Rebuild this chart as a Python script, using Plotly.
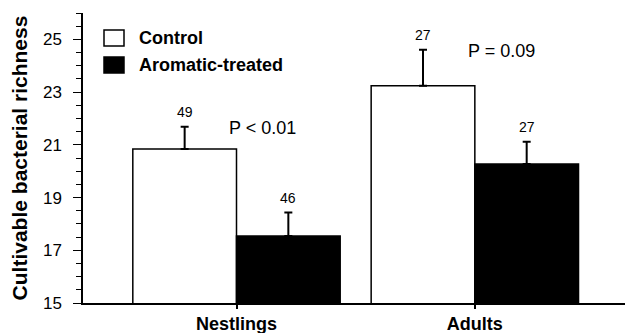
import plotly.graph_objects as go

groups = ["Nestlings", "Adults"]
series_names = ["Control", "Aromatic-treated"]
control_mean = [20.84, 23.24]
control_se = [0.85, 1.37]
treated_mean = [17.54, 20.27]
treated_se = [0.89, 0.85]
control_n = ["49", "27"]
treated_n = ["46", "27"]
p_labels = ["P < 0.01", "P = 0.09"]
series_fill = ["white", "black"]

FONT = "Arial, Liberation Sans, Helvetica, sans-serif"
xpos = list(range(len(groups)))
bar_w = 0.435

fig = go.Figure()
fig.add_trace(go.Bar(
    x=xpos, y=control_mean, name=series_names[0], width=bar_w, offset=-bar_w,
    marker=dict(color=series_fill[0], line=dict(color="black", width=1.5)),
    error_y=dict(type="data", array=control_se, arrayminus=[0]*len(groups),
                 symmetric=False, color="black", thickness=2, width=4),
    showlegend=False,
))
fig.add_trace(go.Bar(
    x=xpos, y=treated_mean, name=series_names[1], width=bar_w, offset=0,
    marker=dict(color=series_fill[1], line=dict(color="black", width=1.5)),
    error_y=dict(type="data", array=treated_se, arrayminus=[0]*len(groups),
                 symmetric=False, color="black", thickness=2, width=4),
    showlegend=False,
))

annotations = []
for i in xpos:
    annotations.append(dict(x=i - bar_w / 2, y=control_mean[i] + control_se[i], text=control_n[i],
                            showarrow=False, yshift=15, font=dict(size=14, family=FONT, color="black")))
    annotations.append(dict(x=i + bar_w / 2, y=treated_mean[i] + treated_se[i], text=treated_n[i],
                            showarrow=False, yshift=15, font=dict(size=14, family=FONT, color="black")))
    annotations.append(dict(x=i + 0.11, y=control_mean[i] + control_se[i], text=p_labels[i],
                            showarrow=False, xanchor="center", yshift=-1,
                            font=dict(size=18, family=FONT, color="black")))

# legend keys (custom, to match the larger boxes of the original)
W, H = 625, 333
shapes = []
leg_y = [38, 65]
for k, name in enumerate(series_names):
    yc = leg_y[k]
    shapes.append(dict(type="rect", xref="paper", yref="paper",
                       x0=(104 - 83) / (W - 83), x1=(124 - 83) / (W - 83),
                       y0=(303 - (yc + 8)) / 290, y1=(303 - (yc - 8)) / 290,
                       fillcolor=series_fill[k], line=dict(color="black", width=1.5)))
    annotations.append(dict(xref="paper", yref="paper", x=(137 - 83) / (W - 83), y=(303 - yc) / 290,
                            xanchor="left", yanchor="middle", text="<b>%s</b>" % name, showarrow=False,
                            font=dict(size=18, family=FONT, color="black")))

fig.update_layout(
    width=W, height=H,
    margin=dict(l=83, r=0, t=13, b=30, autoexpand=False),
    paper_bgcolor="white", plot_bgcolor="white",
    barmode="overlay",
    showlegend=False,
    annotations=annotations,
    shapes=shapes,
    font=dict(family=FONT, color="black"),
)
fig.update_xaxes(
    range=[-0.644, 1.63], tickvals=xpos, ticktext=groups,
    showline=True, linecolor="black", linewidth=1.5,
    ticks="outside", ticklen=4, tickcolor="black", tickwidth=1.5,
    tickfont=dict(family=FONT, size=18, color="black", weight="bold"),
    showgrid=False, zeroline=False, automargin=False,
)
fig.update_yaxes(
    range=[15, 26], tickvals=[15, 17, 19, 21, 23, 25],
    showline=True, linecolor="black", linewidth=1.5,
    ticks="outside", ticklen=8, tickcolor="black", tickwidth=1.2,
    ticklabelstandoff=8,
    minor=dict(dtick=0.5, tick0=15, ticks="outside", ticklen=5, tickcolor="black", tickwidth=1.2, showgrid=False),
    tickfont=dict(family=FONT, size=17, color="black"),
    title=dict(text="Cultivable bacterial richness", standoff=10,
               font=dict(family=FONT, size=21, color="black", weight="bold")),
    showgrid=False, zeroline=False, automargin=False,
)

fig.write_html("out.html", config={"displayModeBar": False},
               post_script="document.body.style.margin='0';document.body.style.overflow='hidden';")
